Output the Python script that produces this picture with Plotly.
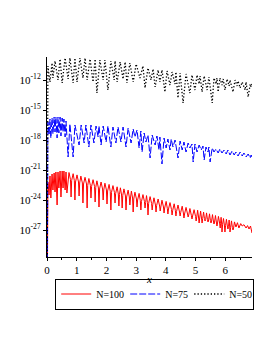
import plotly.graph_objects as go

# ---- data (x, log10 of value) ----
x_n50 = [0, 0.017, 0.03, 0.10, 0.17, 0.20, 0.27, 0.37, 0.44, 0.51, 0.61, 0.71, 0.77, 0.88, 0.94, 1.01,
         1.11, 1.21, 1.28, 1.35, 1.45, 1.55, 1.62, 1.68, 1.78, 1.89, 1.95, 2.05, 2.15, 2.26, 2.29, 2.36,
         2.46, 2.56, 2.63, 2.69, 2.79, 2.90, 3.00, 3.13, 3.23, 3.30, 3.40, 3.50, 3.57, 3.64, 3.74, 3.80,
         3.87, 3.97, 4.04, 4.14, 4.21, 4.31, 4.34, 4.41, 4.48, 4.58, 4.68, 4.81, 4.88, 4.98, 5.05, 5.12,
         5.15, 5.22, 5.29, 5.39, 5.45, 5.56, 5.62, 5.69, 5.72, 5.76, 5.82, 5.89, 5.93, 5.99, 6.06, 6.13,
         6.16, 6.26, 6.33, 6.40, 6.43, 6.50, 6.57, 6.67, 6.70, 6.77, 6.84, 6.87, 6.90]
e_n50 = [-40, -11.0, -10.6, -12.2, -10.3, -11.8, -10.1, -12.0, -9.9, -12.3, -9.8, -11.9, -9.8, -12.3, -9.8, -12.2,
         -9.8, -11.8, -9.8, -12.0, -9.9, -12.2, -9.9, -13.3, -10.0, -12.0, -10.0, -13.0, -10.1, -12.0, -10.1, -12.2,
         -10.2, -11.9, -10.2, -12.3, -10.3, -12.2, -10.4, -11.8, -10.6, -12.8, -10.8, -12.0, -10.9, -12.7, -11.0, -12.2,
         -11.0, -13.2, -11.1, -12.5, -11.2, -12.4, -11.2, -13.8, -11.3, -14.3, -11.4, -13.3, -11.5, -13.0, -11.5, -12.4,
         -11.6, -13.2, -11.6, -13.0, -11.7, -14.3, -11.8, -12.4, -11.8, -13.2, -11.8, -12.5, -11.9, -13.0, -11.9, -12.6,
         -12.0, -13.2, -12.0, -12.6, -12.1, -12.8, -12.2, -13.0, -12.2, -13.7, -12.4, -12.7, -12.4]

x_n75 = [0, 0.017, 0.03, 0.07, 0.10, 0.13, 0.17, 0.20, 0.24, 0.27, 0.30, 0.34, 0.37, 0.40, 0.44, 0.47,
         0.51, 0.54, 0.57, 0.61, 0.64, 0.71, 0.77, 0.88, 0.94, 1.08, 1.15, 1.25, 1.31, 1.41, 1.48, 1.58,
         1.65, 1.72, 1.75, 1.82, 1.89, 1.99, 2.05, 2.15, 2.22, 2.32, 2.39, 2.49, 2.56, 2.66, 2.73, 2.83,
         2.90, 2.96, 3.03, 3.10, 3.16, 3.20, 3.27, 3.33, 3.40, 3.47, 3.54, 3.64, 3.70, 3.77, 3.80, 3.87,
         3.94, 4.01, 4.07, 4.14, 4.18, 4.24, 4.31, 4.41, 4.48, 4.55, 4.61, 4.68, 4.75, 4.81, 4.88, 4.92,
         4.98, 5.05, 5.12, 5.19, 5.25, 5.29, 5.35, 5.42, 5.45, 5.49, 5.56, 5.62, 5.69, 5.76, 5.82, 5.89,
         5.96, 6.03, 6.09, 6.16, 6.23, 6.30, 6.36, 6.43, 6.50, 6.57, 6.63, 6.70, 6.77, 6.84, 6.87, 6.90]
e_n75 = [-40, -17.0, -16.2, -17.5, -15.9, -17.8, -15.8, -17.4, -15.7, -17.2, -15.7, -17.8, -15.7, -17.3, -15.7, -17.6,
         -15.8, -17.2, -15.9, -17.7, -16.1, -19.7, -16.4, -19.7, -16.5, -18.5, -16.5, -18.3, -16.5, -18.7, -16.5, -18.3,
         -16.6, -17.7, -16.6, -18.5, -16.6, -18.2, -16.6, -18.7, -16.7, -18.3, -16.7, -18.2, -16.7, -18.7, -16.8, -18.3,
         -16.9, -17.7, -17.0, -18.8, -17.1, -19.2, -17.3, -18.2, -17.5, -19.8, -17.5, -18.5, -17.6, -19.0, -17.7, -20.4,
         -17.8, -18.8, -17.9, -19.0, -17.9, -18.7, -18.0, -19.8, -18.1, -19.0, -18.2, -19.2, -18.3, -18.8, -18.4, -20.2,
         -18.4, -19.2, -18.5, -19.0, -18.6, -20.0, -18.7, -19.2, -18.7, -20.2, -18.8, -19.2, -18.9, -19.3, -18.9, -19.3,
         -19.0, -19.4, -19.0, -19.5, -19.1, -19.5, -19.2, -19.6, -19.2, -19.6, -19.3, -19.7, -19.4, -19.8, -19.5, -19.7]

x_n100 = [0, 0.01, 0.03, 0.07, 0.10, 0.13, 0.17, 0.20, 0.24, 0.27, 0.30, 0.34, 0.37, 0.40, 0.44, 0.47,
          0.51, 0.54, 0.57, 0.61, 0.64, 0.67,
          0.74, 0.79, 0.81, 0.83, 0.88, 0.92, 0.94, 0.96, 1.01, 1.06, 1.08, 1.10,
          1.14, 1.19, 1.21, 1.23, 1.28, 1.33, 1.35, 1.37, 1.41, 1.46, 1.48, 1.50,
          1.55, 1.60, 1.62, 1.64, 1.68, 1.73, 1.75, 1.77, 1.82, 1.87, 1.89, 1.91,
          1.95, 2.00, 2.02, 2.04, 2.09, 2.13, 2.15, 2.17, 2.22, 2.27, 2.29, 2.31,
          2.36, 2.40, 2.42, 2.44, 2.47, 2.51, 2.53, 2.55, 2.59, 2.64, 2.66, 2.68,
          2.73, 2.77, 2.79, 2.81, 2.84, 2.88, 2.90, 2.92, 2.96, 3.01, 3.03, 3.05,
          3.10, 3.14, 3.16, 3.18, 3.23, 3.28, 3.30, 3.32, 3.35, 3.38, 3.40, 3.42,
          3.47, 3.52, 3.54, 3.56, 3.60, 3.65, 3.67, 3.69, 3.74, 3.79, 3.81, 3.83,
          3.87, 3.92, 3.94, 3.96, 4.01, 4.05, 4.07, 4.09, 4.14, 4.19, 4.21, 4.23,
          4.28, 4.32, 4.34, 4.36, 4.41, 4.46, 4.48, 4.50, 4.55, 4.59, 4.61, 4.63,
          4.68, 4.73, 4.75, 4.77, 4.81, 4.86, 4.88, 4.90, 4.95, 5.00, 5.02, 5.04,
          5.07, 5.10, 5.12, 5.14, 5.17, 5.20, 5.22, 5.24, 5.27, 5.30, 5.32, 5.34,
          5.37, 5.40, 5.42, 5.44, 5.47, 5.50, 5.52, 5.54, 5.57, 5.60, 5.62, 5.64,
          5.67, 5.70, 5.72, 5.74, 5.77, 5.81, 5.83, 5.84, 5.86, 5.88, 5.89, 5.91,
          5.94, 5.97, 5.99, 6.01, 6.04, 6.07, 6.09, 6.11, 6.13, 6.15, 6.16, 6.18,
          6.21, 6.24, 6.26, 6.28, 6.31, 6.36, 6.41, 6.46, 6.52, 6.57, 6.63, 6.70,
          6.75, 6.80, 6.85, 6.90]
e_n100 = [-40, -24.0, -22.2, -23.5, -21.6, -23.8, -21.4, -23.0, -21.3, -23.2, -21.2, -24.5, -21.2, -22.8, -21.1, -23.7,
          -21.1, -22.8, -21.1, -23.0, -21.2, -23.3,
          -21.25, -21.95, -23.7, -22.05, -21.37, -22.07, -24.0, -22.2, -21.49, -22.2, -23.6, -22.3,
          -21.61, -22.3, -24.3, -22.4, -21.73, -22.4, -24.8, -22.55, -21.85, -22.55, -23.8, -22.65,
          -21.97, -22.65, -24.2, -22.75, -22.08, -22.8, -24.7, -22.9, -22.2, -22.9, -24.0, -23.0,
          -22.32, -23.0, -24.4, -23.1, -22.44, -23.15, -25.0, -23.25, -22.56, -23.25, -24.3, -23.35,
          -22.68, -23.4, -24.6, -23.45, -22.78, -23.5, -24.8, -23.55, -22.89, -23.6, -25.0, -23.7,
          -23.01, -23.7, -24.5, -23.8, -23.11, -23.8, -25.2, -23.9, -23.22, -23.9, -24.7, -24.0,
          -23.34, -24.05, -25.0, -24.15, -23.46, -24.15, -24.8, -24.25, -23.56, -24.25, -25.5, -24.35,
          -23.66, -24.35, -25.0, -24.45, -23.78, -24.5, -25.2, -24.55, -23.9, -24.6, -25.1, -24.7,
          -24.02, -24.7, -25.3, -24.8, -24.14, -24.85, -25.4, -24.9, -24.26, -24.95, -25.5, -25.05,
          -24.38, -25.05, -25.6, -25.15, -24.5, -25.2, -25.6, -25.25, -24.62, -25.3, -25.8, -25.4,
          -24.74, -25.4, -25.7, -25.5, -24.85, -25.55, -25.9, -25.6, -24.97, -25.65, -26.1, -25.7,
          -25.02, -25.7, -26.3, -25.8, -25.11, -25.8, -26.3, -25.85, -25.2, -25.85, -26.1, -25.95,
          -25.29, -25.95, -26.2, -26.0, -25.38, -26.05, -26.3, -26.1, -25.46, -26.1, -26.4, -26.2,
          -25.55, -26.2, -26.6, -26.3, -25.64, -26.3, -26.8, -26.35, -25.73, -26.4, -27.2, -26.45,
          -25.85, -26.5, -27.2, -26.55, -25.93, -26.6, -26.9, -26.65, -26.0, -26.7, -27.2, -26.75,
          -26.09, -26.75, -27.0, -26.8, -26.19, -26.7, -26.27, -26.8, -26.36, -26.6, -26.47, -26.8,
          -26.56, -26.9, -26.6, -27.3]

y_tick_exponents = [-27, -24, -21, -18, -15, -12]
x_tick_values = [0, 1, 2, 3, 4, 5, 6]

FONT = "Liberation Serif, Times New Roman, serif"

fig = go.Figure()
fig.add_trace(go.Scatter(x=x_n100, y=[10 ** e for e in e_n100], mode="lines", name="N=100",
                         legendwidth=24,
                         line=dict(color="#ff0000", width=1)))
fig.add_trace(go.Scatter(x=x_n75, y=[10 ** e for e in e_n75], mode="lines", name="N=75",
                         legendwidth=19,
                         line=dict(color="#0000ff", width=1, dash="7px,2px")))
fig.add_trace(go.Scatter(x=x_n50, y=[10 ** e for e in e_n50], mode="lines", name="N=50",
                         legendwidth=19,
                         line=dict(color="#000000", width=1.3, dash="1.3px,2px")))

# the page body adds an 8px offset, so margins are reduced on the left/top accordingly
fig.update_layout(
    width=273, height=353,
    margin=dict(l=39, r=29, t=49, b=104, autoexpand=False),
    paper_bgcolor="white", plot_bgcolor="white",
    font=dict(family=FONT, size=11, color="black"),
    showlegend=True,
    legend=dict(orientation="h", x=0.04, xanchor="left",
                y=-0.185, yanchor="middle",
                bordercolor="black", borderwidth=1, font=dict(family=FONT, size=10),
                itemwidth=30, tracegroupgap=0),
)
fig.update_xaxes(
    range=[0, 6.9], showgrid=False, zeroline=False, automargin=False,
    showline=True, linecolor="black", linewidth=1,
    ticks="outside", ticklen=3, tickcolor="black",
    tickvals=x_tick_values,
    minor=dict(dtick=0.5, ticks="outside", ticklen=2, tickcolor="black"),
    tickfont=dict(family=FONT, size=11),
    title=dict(text="<i>x</i>", font=dict(family=FONT, size=11), standoff=0),
)
fig.update_yaxes(
    type="log", range=[-29.7, -9.7], showgrid=False, zeroline=False, automargin=False,
    showline=True, linecolor="black", linewidth=1,
    ticks="outside", ticklen=3, tickcolor="black",
    tickvals=[10 ** e for e in y_tick_exponents],
    ticktext=["10<sup>%d</sup>" % e for e in y_tick_exponents],
    tickfont=dict(family=FONT, size=11),
)

fig.write_html("out.html")
